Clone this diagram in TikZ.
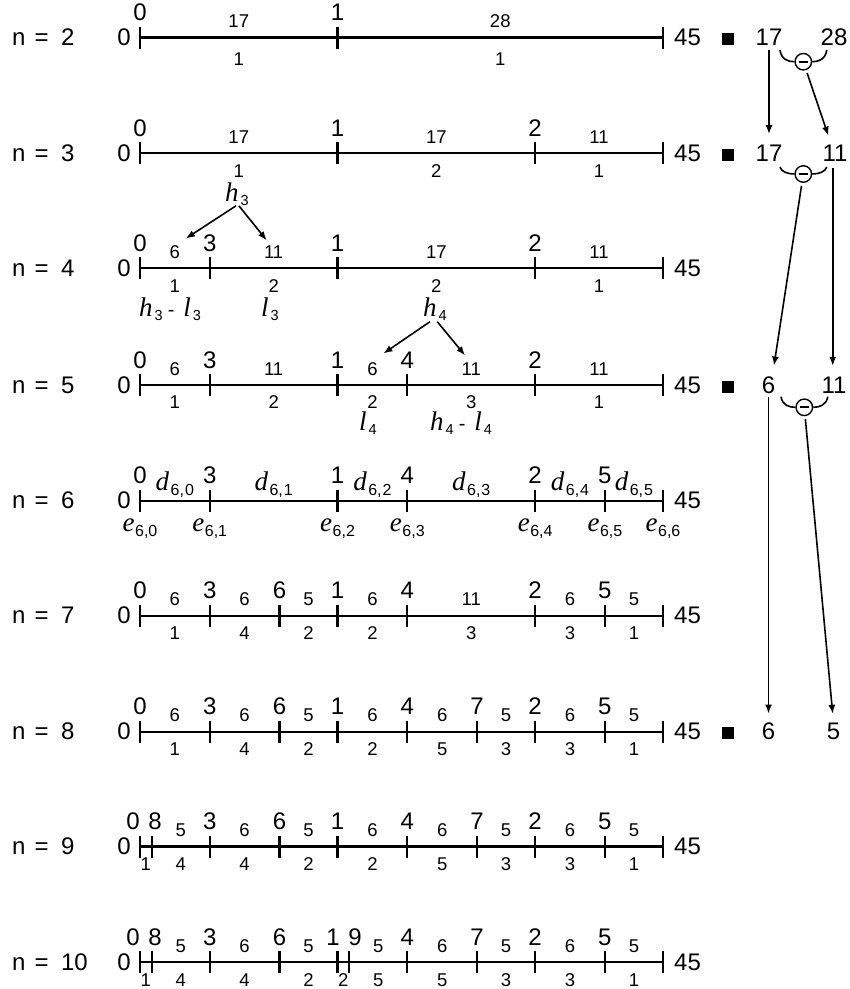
\documentclass[tikz,border=0pt]{standalone}
\usepackage{fontspec}
\setmainfont{Liberation Sans}
\newfontfamily\serifit{Liberation Serif}
\usetikzlibrary{arrows.meta}
\newcommand\IT[1]{{\serifit\itshape\fontsize{27}{27}\selectfont #1}}
\newcommand\SB[1]{\raisebox{-4pt}{\fontsize{14.5}{14.5}\selectfont #1}}
\newcommand\SD[1]{\raisebox{-5pt}{\fontsize{16}{16}\selectfont #1}}
\tikzset{
  big/.style={font=\fontsize{24}{24}\selectfont, inner sep=0pt, anchor=base},
  small/.style={font=\fontsize{18.5}{18.5}\selectfont, inner sep=0pt, anchor=base},
  itl/.style={inner sep=0pt, anchor=base west},
  axis/.style={line width=2.2pt},
  arr/.style={-{Latex[length=9pt,width=7pt]}, line width=1.6pt},
  br/.style={line width=1.6pt},
  minus/.style={circle, draw, line width=1.4pt, minimum size=16.5pt, inner sep=0pt},
  sq/.style={fill=black, minimum size=12pt, inner sep=0pt}
}
% #1 n, #2 Y, #3 interior ticks, #4 vertex labels
\newcommand\Row[4]{%
  \node[big, anchor=base west] (nl#1) at (12,{#2+8}) {n\hspace{9pt}=\hspace{12.5pt}#1};
  \node[big] (z#1) at (124,{#2+8}) {0};
  \node[big, anchor=base west] (f#1) at (674,{#2+8}) {45};
  \draw[axis] (140,#2) -- (663,#2);
  \foreach \p in {0,#3,45} \draw[axis] ({140+\p*11.622},{#2-11}) -- ({140+\p*11.622},{#2+11});
  \foreach \p/\t [count=\i] in {#4} \node[big] (v#1-\i) at ({140+\p*11.622},{#2-17}) {\t};
}
\newcommand\Up[3]{%
  \foreach \m/\t [count=\i] in {#3} \node[small] (u#1-\i) at ({140+\m*11.622},{#2-10}) {\t};
}
\newcommand\Lo[4]{%
  \foreach \m/\t [count=\i] in {#4} \node[small] (w#1-\i) at ({140+\m*11.622},{#2+#3}) {\t};
}
\newcommand\Br[2]{%
  \draw[br] ([shift={(-23.3pt,#2pt)}]#1.center) .. controls ([shift={(-22pt,2pt)}]#1.center) and ([shift={(-15pt,0pt)}]#1.center) .. (#1.west);
  \draw[br] (#1.east) .. controls ([shift={(15pt,0pt)}]#1.center) and ([shift={(22pt,2pt)}]#1.center) .. ([shift={(23.5pt,#2pt)}]#1.center);
  \draw[line width=2.2pt] ([xshift=-4.5pt]#1.center) -- ([xshift=4.5pt]#1.center);
}
\begin{document}
\begin{tikzpicture}[x=1pt,y=-1pt]
\useasboundingbox (0,0) rectangle (850,989);

% n = 2
\Row{2}{37.5}{17}{0/0,17/1}
\Up{2}{37.5}{8.5/17,31/28}
\Lo{2}{37.5}{27.7}{8.5/1,31/1}
% n = 3
\Row{3}{153.3}{17,34}{0/0,17/1,34/2}
\Up{3}{153.3}{8.5/17,25.5/17,39.5/11}
\Lo{3}{153.3}{24}{8.5/1,25.5/2,39.5/1}
% n = 4
\Row{4}{268.3}{6,17,34}{0/0,6/3,17/1,34/2}
\Up{4}{268.3}{3/6,11.5/11,25.5/17,39.5/11}
\Lo{4}{268.3}{24.5}{3/1,11.5/2,25.5/2,39.5/1}
% n = 5
\Row{5}{385}{6,17,23,34}{0/0,6/3,17/1,23/4,34/2}
\Up{5}{385}{3/6,11.5/11,20/6,28.5/11,39.5/11}
\Lo{5}{385}{23.5}{3/1,11.5/2,20/2,28.5/3,39.5/1}
% n = 6
\Row{6}{500.7}{6,17,23,34,40}{0/0,6/3,17/1,23/4,34/2,40/5}
\foreach \m [count=\i from 0] in {3,11.5,20,28.5,37,42.5}
  \node[inner sep=0pt, anchor=base] (d\i) at ({140+\m*11.622},490) {\IT{d}\kern1.5pt\SD{6,\kern1pt\i}};
\foreach \p [count=\i from 0] in {0,6,17,23,34,40,45}
  \node[inner sep=0pt, anchor=base] (e\i) at ({140+\p*11.622},531) {\IT{e}\kern0.5pt\SD{6,\i}};
% n = 7
\Row{7}{615.7}{6,12,17,23,34,40}{0/0,6/3,12/6,17/1,23/4,34/2,40/5}
\Up{7}{615.7}{3/6,9/6,14.5/5,20/6,28.5/11,37/6,42.5/5}
\Lo{7}{615.7}{24}{3/1,9/4,14.5/2,20/2,28.5/3,37/3,42.5/1}
% n = 8
\Row{8}{731.7}{6,12,17,23,29,34,40}{0/0,6/3,12/6,17/1,23/4,29/7,34/2,40/5}
\Up{8}{731.7}{3/6,9/6,14.5/5,20/6,26/6,31.5/5,37/6,42.5/5}
\Lo{8}{731.7}{24}{3/1,9/4,14.5/2,20/2,26/5,31.5/3,37/3,42.5/1}
% n = 9
\Row{9}{846.5}{1,6,12,17,23,29,34,40}{-0.6/0,1.3/8,6/3,12/6,17/1,23/4,29/7,34/2,40/5}
\Up{9}{846.5}{3.5/5,9/6,14.5/5,20/6,26/6,31.5/5,37/6,42.5/5}
\Lo{9}{846.5}{24}{0.5/1,3.5/4,9/4,14.5/2,20/2,26/5,31.5/3,37/3,42.5/1}
% n = 10
\Row{10}{962.3}{1,6,12,17,18,23,29,34,40}{-0.6/0,1.3/8,6/3,12/6,16.6/1,18.5/9,23/4,29/7,34/2,40/5}
\Up{10}{962.3}{3.5/5,9/6,14.5/5,20.5/5,26/6,31.5/5,37/6,42.5/5}
\Lo{10}{962.3}{24}{0.5/1,3.5/4,9/4,14.5/2,17.5/2,20.5/5,26/5,31.5/3,37/3,42.5/1}

% h and l annotations
\node[itl] (h3) at (225,201.5) {\IT{h}\kern2pt\SB{3}};
\node[itl] (hl3) at (139,316.5) {\IT{h}\kern2pt\SB{3}\kern5pt{\fontsize{20}{20}\selectfont -}\kern9pt\IT{l}\kern2pt\SB{3}};
\node[itl] (l3) at (261,316.5) {\IT{l}\kern2pt\SB{3}};
\node[itl] (h4) at (423,316.5) {\IT{h}\kern2pt\SB{4}};
\node[itl] (l4) at (359,430) {\IT{l}\kern2pt\SB{4}};
\node[itl] (hl4) at (430,430) {\IT{h}\kern2pt\SB{4}\kern5pt{\fontsize{20}{20}\selectfont -}\kern9pt\IT{l}\kern2pt\SB{4}};

\draw[arr] ([xshift=-1pt]h3.south) -- ([shift={(11pt,6.7pt)}]u4-1.north);
\draw[arr] ([xshift=2pt]h3.south) -- ([shift={(-7pt,5pt)}]u4-2.north);
\draw[arr] ([shift={(-5pt,-1pt)}]h4.south) -- ([shift={(11pt,8.4pt)}]u5-3.north);
\draw[arr] ([shift={(2.3pt,-1pt)}]h4.south) -- ([shift={(-6.2pt,6.7pt)}]u5-4.north);

% right-hand scheme
\node[sq] (s2) at (728,39) {};
\node[sq] (s3) at (728,154.8) {};
\node[sq] (s5) at (728,386.5) {};
\node[sq] (s8) at (728,733.2) {};

\node[big] (r2a) at (769,45.5) {17};
\node[big] (r2b) at (834,45.5) {28};
\node[big] (r3a) at (769,161.3) {17};
\node[big] (r3b) at (835,161.3) {11};
\node[big] (r5a) at (768.5,393) {6};
\node[big] (r5b) at (834,393) {11};
\node[big] (r8a) at (768.5,739.7) {6};
\node[big] (r8b) at (833.5,739.7) {5};

\node[minus] (m2) at (803.3,61.7) {};
\node[minus] (m3) at (803.3,174) {};
\node[minus] (m5) at (804.3,407.3) {};
\Br{m2}{11.7}
\Br{m3}{7}
\Br{m5}{10.6}

\draw[arr] ([yshift=-4.5pt]r2a.south) -- ([yshift=10.5pt]r3a.north);
\draw[arr, shorten <=3pt] (m2) -- ([shift={(-6.7pt,9pt)}]r3b.north);
\draw[arr, shorten <=3pt] (m3) -- ([shift={(5.5pt,10.5pt)}]r5a.north);
\draw[arr] ([shift={(-2.3pt,-6.5pt)}]r3b.south) -- ([shift={(-1.3pt,10.5pt)}]r5b.north);
\draw[arr] ([yshift=-4pt]r5a.south) -- ([yshift=9.2pt]r8a.north);
\draw[arr, shorten <=3pt] (m5) -- ([shift={(-0.8pt,9.2pt)}]r8b.north);
\end{tikzpicture}
\end{document}
